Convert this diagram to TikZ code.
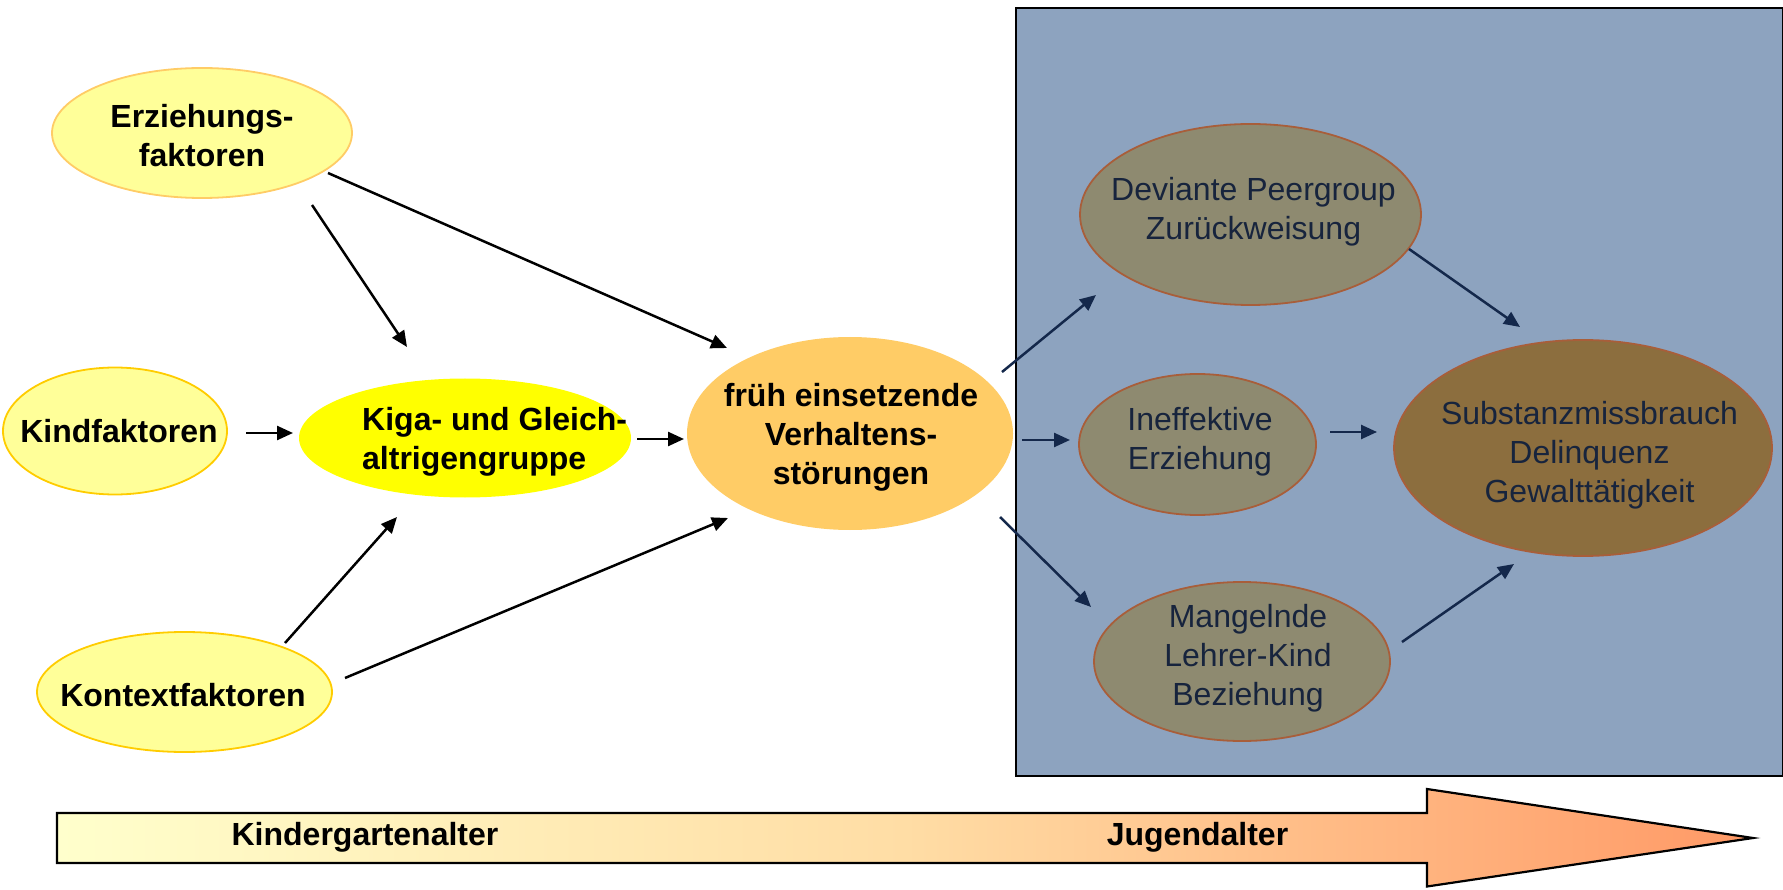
\documentclass[tikz,border=0pt]{standalone}
\usepackage{fontspec}
\setmainfont{Liberation Sans}
\usetikzlibrary{shapes.geometric,arrows.meta,calc}
\definecolor{lightyel}{HTML}{FFFF99}
\definecolor{yelborder}{HTML}{FFCC00}
\definecolor{orborder}{HTML}{FFCC66}
\definecolor{kigayel}{HTML}{FFFF00}
\definecolor{fruehor}{HTML}{FFCC66}
\definecolor{boxblue}{HTML}{8DA3BF}
\definecolor{olive}{HTML}{8E8A70}
\definecolor{brownfill}{HTML}{8C6E3E}
\definecolor{sienna}{HTML}{A85E3A}
\definecolor{navy}{HTML}{14284B}
\definecolor{navytxt}{HTML}{17243D}
\definecolor{cream}{HTML}{FFFFCC}
\definecolor{midpeach}{HTML}{FFDDA5}
\definecolor{salmon}{HTML}{FF9966}
\begin{document}
\begin{tikzpicture}[x=1pt,y=-1pt,
  ell/.style={ellipse, inner sep=0pt, line width=1.8pt},
  yelell/.style={ell, fill=lightyel, draw=yelborder},
  olell/.style={ell, fill=olive, draw=sienna},
  lbl/.style={inner sep=0pt, align=center, font=\fontsize{32}{39}\selectfont\bfseries},
  blbl/.style={inner sep=0pt, align=center, font=\fontsize{32}{39}\selectfont, text=navytxt},
  arr/.style={line width=2.5pt, -{Triangle[length=16pt,width=14pt]}},
  darr/.style={arr, draw=navy, fill=navy},
]
\useasboundingbox (0,0) rectangle (1783,890);
% background box
\node[draw=black, fill=boxblue, line width=2pt, minimum width=767pt, minimum height=767.5pt, inner sep=0pt, anchor=north west] (box) at (1015,7.5) {};

% left ellipses
\node[yelell, draw=orborder, minimum width=300pt, minimum height=130pt] (erz) at (202,133) {};
\node[lbl] (erzT) at (202,136) {Erziehungs-\\faktoren};
\node[yelell, minimum width=224pt, minimum height=127pt] (kind) at (115,431) {};
\node[lbl] (kindT) at (119,431) {Kindfaktoren};
\node[ell, fill=kigayel, minimum width=332pt, minimum height=119pt] (kiga) at (465,438) {};
\node[lbl, align=left, anchor=west] (kigaT) at (362,442) {Kiga- und Gleich-\\altrigengruppe};
\node[yelell, minimum width=295pt, minimum height=120pt] (kontext) at (184.5,692) {};
\node[lbl] (kontextT) at (183,695) {Kontextfaktoren};
\node[ell, fill=fruehor, minimum width=326pt, minimum height=193pt] (frueh) at (850,433.5) {};
\node[lbl] (fruehT) at (851,437) {früh einsetzende\\Verhaltens-\\störungen};

% right ellipses
\node[olell, minimum width=341pt, minimum height=181pt] (dev) at (1250.5,214.5) {};
\node[blbl] (devT) at (1253.5,212) {Deviante Peergroup\\Zurückweisung};
\node[olell, minimum width=237pt, minimum height=141pt] (ineff) at (1197.5,444.5) {};
\node[blbl] (ineffT) at (1200,442) {Ineffektive\\Erziehung};
\node[olell, minimum width=296pt, minimum height=159pt] (mang) at (1242,661.5) {};
\node[blbl] (mangT) at (1248,658.5) {Mangelnde\\Lehrer-Kind\\Beziehung};
\node[ell, fill=brownfill, draw=sienna, minimum width=378pt, minimum height=216pt] (sub) at (1583,448) {};
\node[blbl] (subT) at (1589.5,455.5) {Substanzmissbrauch\\Delinquenz\\Gewalttätigkeit};

% arrows left
\draw[arr] ($(erz)+(110,72)$) -- ($(kiga)+(-58,-91)$);
\draw[arr] ($(erz)+(126,40)$) -- ($(frueh)+(-123,-85.5)$);
\draw[arr] ($(kind)+(131,2)$) -- ($(kiga)+(-172,-5)$);
\draw[arr] ($(kiga)+(172,1)$) -- ($(frueh)+(-166,5.5)$);
\draw[arr] ($(kontext)+(100.5,-49)$) -- ($(kiga)+(-68,79)$);
\draw[arr] ($(kontext)+(160.5,-14)$) -- ($(frueh)+(-122,84.5)$);
% arrows right
\draw[darr] ($(frueh)+(152,-61.5)$) -- ($(dev)+(-154.5,80.5)$);
\draw[darr] ($(frueh)+(172,6.5)$) -- ($(ineff)+(-127.5,-4.5)$);
\draw[darr] ($(frueh)+(150,83.5)$) -- ($(mang)+(-151,-54.5)$);
\draw[darr] ($(dev)+(158.5,34.5)$) -- ($(sub)+(-63,-121)$);
\draw[darr] ($(ineff)+(132.5,-12.5)$) -- ($(sub)+(-206,-16)$);
\draw[darr] ($(mang)+(160,-19.5)$) -- ($(sub)+(-69,116)$);

% time arrow
\path[draw=black, line width=2.2pt, line join=miter, left color=cream, right color=salmon, middle color=midpeach]
  (57,813) -- (1427,813) -- (1427,789) -- (1753,838) -- (1427,886.5) -- (1427,863) -- (57,863) -- cycle;
\node[lbl] (kgT) at (365,837) {Kindergartenalter};
\node[lbl] (jgT) at (1197.5,837) {Jugendalter};
\end{tikzpicture}
\end{document}
